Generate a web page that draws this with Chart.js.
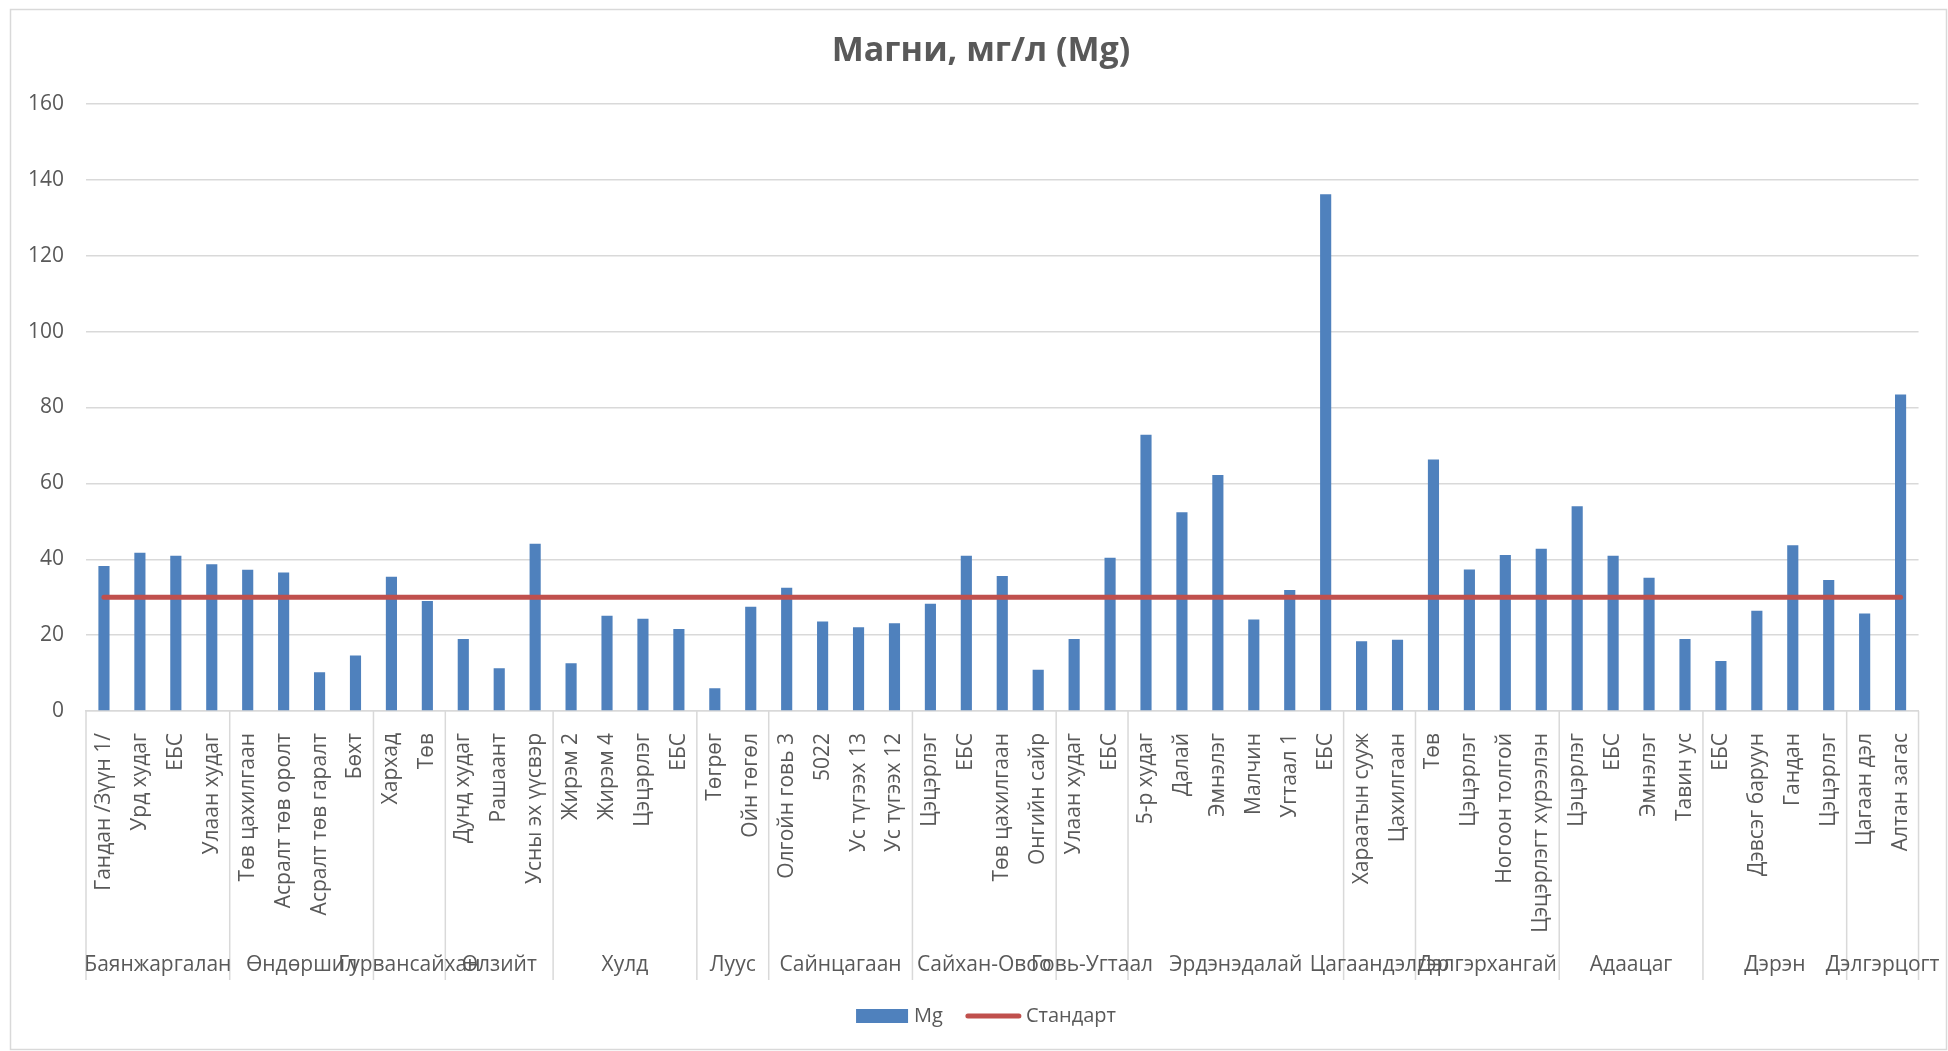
<!DOCTYPE html>
<html><head><meta charset="utf-8">
<script src="https://cdn.jsdelivr.net/npm/chart.js@4.4.1/dist/chart.umd.min.js"></script>
<style>html,body{margin:0;padding:0;background:#fff;overflow:hidden}canvas{display:block}</style>
</head><body>
<canvas id="c" width="1948" height="1051"></canvas>
<script>
const chartTitle = 'Магни, мг/л (Mg)';
const seriesNames = ['Mg', 'Стандарт'];
const categories = [
  'Гандан /Зүүн 1/', 'Урд худаг', 'ЕБС', 'Улаан худаг',
  'Төв цахилгаан', 'Асралт төв оролт', 'Асралт төв гаралт', 'Бөхт',
  'Хархад', 'Төв',
  'Дунд худаг', 'Рашаант', 'Усны эх үүсвэр',
  'Жирэм 2', 'Жирэм 4', 'Цэцэрлэг', 'ЕБС',
  'Төгрөг', 'Ойн төгөл',
  'Олгойн говь 3', '5022', 'Ус түгээх 13', 'Ус түгээх 12',
  'Цэцэрлэг', 'ЕБС', 'Төв цахилгаан', 'Онгийн сайр',
  'Улаан худаг', 'ЕБС',
  '5-р худаг', 'Далай', 'Эмнэлэг', 'Малчин', 'Угтаал 1', 'ЕБС',
  'Хараатын сууж', 'Цахилгаан',
  'Төв', 'Цэцэрлэг', 'Ногоон толгой', 'Цэцэрлэгт хүрээлэн',
  'Цэцэрлэг', 'ЕБС', 'Эмнэлэг', 'Тавин ус',
  'ЕБС', 'Дэвсэг баруун', 'Гандан', 'Цэцэрлэг',
  'Цагаан дэл', 'Алтан загас'
];
const groupNames = ['Баянжаргалан', 'Өндөршил', 'Гурвансайхан', 'Өлзийт', 'Хулд', 'Луус', 'Сайнцагаан', 'Сайхан-Овоо', 'Говь-Угтаал', 'Эрдэнэдалай', 'Цагаандэлгэр', 'Дэлгэрхангай', 'Адаацаг', 'Дэрэн', 'Дэлгэрцогт'];
const groupSizes = [4, 4, 2, 3, 4, 2, 4, 4, 2, 6, 2, 4, 4, 4, 2];
const mgValues = [
  38.2, 41.7, 40.9, 38.7,
  37.2, 36.5, 10.2, 14.6,
  35.4, 29.0,
  19.0, 11.3, 44.1,
  12.6, 25.1, 24.3, 21.6,
  6.0, 27.5,
  32.5, 23.6, 22.1, 23.1,
  28.3, 40.9, 35.6, 10.9,
  19.0, 40.4,
  72.8, 52.4, 62.2, 24.1, 31.9, 136.2,
  18.4, 18.8,
  66.3, 37.3, 41.1, 42.8,
  54.0, 40.9, 35.1, 19.0,
  13.2, 26.4, 43.7, 34.5,
  25.7, 83.4
];
const standardValues = [
  30, 30, 30, 30, 30, 30, 30, 30, 30, 30,
  30, 30, 30, 30, 30, 30, 30, 30, 30, 30,
  30, 30, 30, 30, 30, 30, 30, 30, 30, 30,
  30, 30, 30, 30, 30, 30, 30, 30, 30, 30,
  30, 30, 30, 30, 30, 30, 30, 30, 30, 30,
  30
];
const yMin = 0, yMax = 160, yStep = 20;

const FONT = '"Open Sans", "Noto Sans", sans-serif';
const TEXT = '#595959';
const GRID = '#d9d9d9';
const BAR = '#4f81bd';
const LINE = '#c0504d';
const LABEL_SIZE = 21;

const decor = {
  id: 'decor',
  beforeDraw(chart) {
    const ctx = chart.ctx;
    ctx.save();
    ctx.fillStyle = '#fff';
    ctx.fillRect(0, 0, chart.width, chart.height);
    ctx.strokeStyle = GRID;
    ctx.lineWidth = 1.5;
    ctx.strokeRect(10.5, 9.5, chart.width - 12, chart.height - 11);
    ctx.restore();
  },
  afterDraw(chart) {
    const ctx = chart.ctx, xs = chart.scales.x, area = chart.chartArea;
    const half = (xs.getPixelForValue(1) - xs.getPixelForValue(0)) / 2;
    const bounds = [0];
    groupSizes.forEach(s => bounds.push(bounds[bounds.length - 1] + s));
    ctx.save();
    ctx.strokeStyle = GRID;
    ctx.lineWidth = 1.5;
    bounds.forEach(b => {
      const px = b < categories.length ? xs.getPixelForValue(b) - half : xs.getPixelForValue(b - 1) + half;
      ctx.beginPath();
      ctx.moveTo(px, area.bottom);
      ctx.lineTo(px, 980);
      ctx.stroke();
    });
    ctx.fillStyle = TEXT;
    ctx.font = LABEL_SIZE + 'px ' + FONT;
    ctx.textAlign = 'center';
    ctx.textBaseline = 'middle';
    groupNames.forEach((g, i) => {
      const cx = (xs.getPixelForValue(bounds[i]) + xs.getPixelForValue(bounds[i + 1] - 1)) / 2;
      ctx.fillText(g, cx, 965);
    });
    // title
    ctx.font = 'bold 34px ' + FONT;
    ctx.fillText(chartTitle, 981, 51);
    // legend
    ctx.font = '20px ' + FONT;
    ctx.textAlign = 'left';
    const w1 = ctx.measureText(seriesNames[0]).width;
    const w2 = ctx.measureText(seriesNames[1]).width;
    const total = 52 + 6 + w1 + 23 + 55 + 5 + w2;
    let x0 = 986 - total / 2;
    const ly = 1016;
    ctx.fillStyle = BAR;
    ctx.fillRect(x0, ly - 7, 52, 14);
    ctx.fillStyle = TEXT;
    ctx.fillText(seriesNames[0], x0 + 58, ly);
    let x1 = x0 + 58 + w1 + 23;
    ctx.strokeStyle = LINE;
    ctx.lineWidth = 5;
    ctx.lineCap = 'round';
    ctx.beginPath();
    ctx.moveTo(x1 + 2, ly);
    ctx.lineTo(x1 + 53, ly);
    ctx.stroke();
    ctx.fillText(seriesNames[1], x1 + 60, ly);
    ctx.restore();
  }
};

new Chart(document.getElementById('c'), {
  type: 'bar',
  data: {
    labels: categories,
    datasets: [
      { type: 'line', label: seriesNames[1], data: standardValues, borderColor: LINE, backgroundColor: LINE,
        borderWidth: 5, pointRadius: 0, pointHoverRadius: 0, borderCapStyle: 'round', order: 0 },
      { type: 'bar', label: seriesNames[0], data: mgValues, backgroundColor: BAR,
        categoryPercentage: 1, barPercentage: 0.31, order: 1 }
    ]
  },
  options: {
    responsive: false,
    animation: false,
    devicePixelRatio: 1,
    layout: { padding: { top: 104, left: 10, right: 23, bottom: 0 } },
    plugins: { legend: { display: false }, title: { display: false } },
    scales: {
      x: {
        type: 'category', offset: true,
        grid: { display: false, drawTicks: false },
        border: { display: true, color: GRID, width: 1.5 },
        ticks: { autoSkip: false, minRotation: 90, maxRotation: 90, padding: 22, color: TEXT,
                 font: { family: FONT, size: LABEL_SIZE } },
        afterFit(s) { s.height = 340; }
      },
      y: {
        min: yMin, max: yMax,
        ticks: { stepSize: yStep, padding: 22, color: TEXT, font: { family: FONT, size: LABEL_SIZE } },
        grid: { color: GRID, lineWidth: 1.5, drawTicks: false },
        border: { display: false },
        afterFit(s) { s.width = 76; }
      }
    }
  },
  plugins: [decor]
});
</script>
</body></html>
